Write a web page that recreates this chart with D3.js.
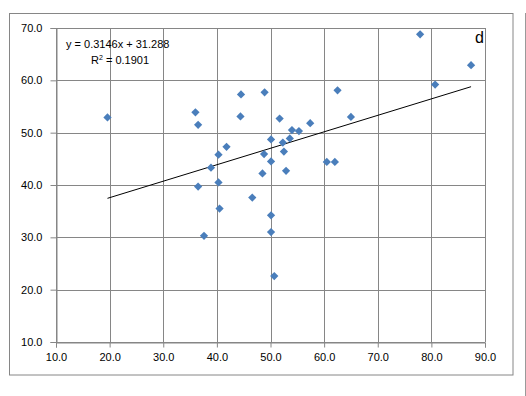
<!DOCTYPE html>
<html>
<head>
<meta charset="utf-8">
<script src="https://cdn.jsdelivr.net/npm/d3@7"></script>
<style>
  body { margin: 0; background: #fff; }
  svg text { font-family: "Liberation Sans", Arial, sans-serif; }
</style>
</head>
<body>
<div id="chart"></div>
<script>
// scatter values
var xVals = [19.6, 36.0, 36.5, 44.5, 44.4, 40.3, 41.8, 38.9, 36.5, 40.3, 46.6, 37.6,
  40.5, 48.9, 51.7, 50.1, 48.8, 50.1, 48.5, 50.1, 50.1, 50.7, 62.5, 57.4,
  65.0, 54.0, 55.3, 53.6, 52.3, 52.5, 60.5, 62.0, 52.9, 77.9, 87.4, 80.7];
var yVals = [52.9, 53.9, 51.5, 57.3, 53.1, 45.8, 47.3, 43.3, 39.7, 40.5, 37.6, 30.3,
  35.5, 57.7, 52.7, 48.7, 45.9, 44.5, 42.2, 34.2, 31.0, 22.6, 58.1, 51.8,
  53.0, 50.5, 50.3, 48.9, 48.1, 46.4, 44.4, 44.4, 42.7, 68.8, 62.9, 59.2];
var xTicks = [10, 20, 30, 40, 50, 60, 70, 80, 90];
var yTicks = [10, 20, 30, 40, 50, 60, 70];
var slope = 0.3146, intercept = 31.288, r2 = 0.1901;

var W = 526, H = 396;
var svg = d3.select("#chart").append("svg")
  .attr("width", W).attr("height", H);

// outer chart frame
svg.append("rect")
  .attr("x", 9.5).attr("y", 13.5).attr("width", 503.5).attr("height", 361.5)
  .attr("fill", "none").attr("stroke", "#868686");
svg.append("line")
  .attr("x1", 525.5).attr("x2", 525.5).attr("y1", 13).attr("y2", H)
  .attr("stroke", "#9a9a9a");

var x = d3.scaleLinear().domain([10, 90]).range([56, 485]);
var y = d3.scaleLinear().domain([10, 70]).range([342, 28]);

// grid
var g = svg.append("g");
g.selectAll(".vg").data(xTicks).enter().append("line")
  .attr("x1", function(d) { return Math.round(x(d)) + 0.5; })
  .attr("x2", function(d) { return Math.round(x(d)) + 0.5; })
  .attr("y1", y(70)).attr("y2", y(10))
  .attr("stroke", "#868686");
g.selectAll(".hg").data(yTicks).enter().append("line")
  .attr("y1", function(d) { return Math.round(y(d)) + 0.5; })
  .attr("y2", function(d) { return Math.round(y(d)) + 0.5; })
  .attr("x1", x(10)).attr("x2", x(90))
  .attr("stroke", "#868686");

// axes
var xAxis = svg.append("g")
  .attr("transform", "translate(0," + (Math.round(y(10)) + 0.5) + ")")
  .call(d3.axisBottom(x).tickValues(xTicks).tickSize(5).tickPadding(6)
    .tickFormat(d3.format(".1f")));
var yAxis = svg.append("g")
  .attr("transform", "translate(" + (Math.round(x(10)) + 0.5) + ",0)")
  .call(d3.axisLeft(y).tickValues(yTicks).tickSize(6).tickPadding(8)
    .tickFormat(d3.format(".1f")));
[xAxis, yAxis].forEach(function(a) {
  a.select(".domain").attr("stroke", "#868686");
  a.selectAll(".tick line").attr("stroke", "#868686");
  a.selectAll("text").attr("font-size", "11px").attr("fill", "#000");
});

// trend line over the data range
var x0 = d3.min(xVals), x1 = d3.max(xVals);
svg.append("line")
  .attr("x1", x(x0)).attr("y1", y(slope * x0 + intercept))
  .attr("x2", x(x1)).attr("y2", y(slope * x1 + intercept))
  .attr("stroke", "#000").attr("stroke-width", 1);

// points
var pts = xVals.map(function(v, i) { return [v, yVals[i]]; });
svg.selectAll(".pt").data(pts).enter().append("path")
  .attr("d", d3.symbol().type(d3.symbolSquare).size(34))
  .attr("transform", function(d) {
    return "translate(" + x(d[0]) + "," + y(d[1]) + ") rotate(45)";
  })
  .attr("fill", "#4a7ebb");

// equation label
svg.append("text").attr("x", 66).attr("y", 48).attr("font-size", "11px")
  .text("y = " + slope + "x + " + intercept);
var rt = svg.append("text").attr("x", 91).attr("y", 64).attr("font-size", "11px");
rt.append("tspan").text("R");
rt.append("tspan").attr("dy", -4).attr("font-size", "7px").text("2");
rt.append("tspan").attr("dy", 4).text(" = " + r2);

// panel letter
svg.append("text").attr("x", 484).attr("y", 43).attr("text-anchor", "end")
  .attr("font-size", "16px").text("d");
</script>
</body>
</html>
